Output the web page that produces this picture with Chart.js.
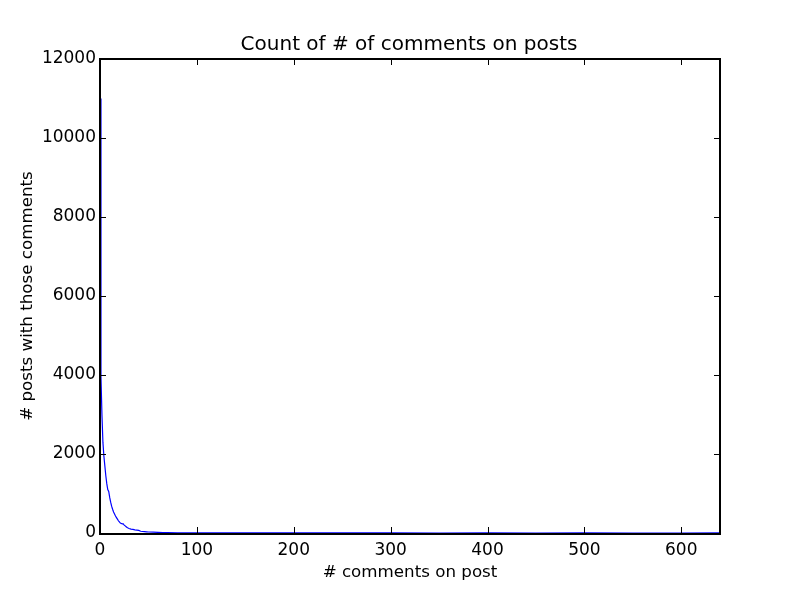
<!DOCTYPE html>
<html>
<head>
<meta charset="utf-8">
<script src="https://cdn.jsdelivr.net/npm/chart.js@4"></script>
<style>
  html, body { margin: 0; padding: 0; background: #fff; }
  #wrap { width: 800px; height: 593px; }
</style>
</head>
<body>
<div id="wrap"><canvas id="canvas" width="800" height="593"></canvas></div>
<script>
// # comments on a post (x) and how many posts had that many (y)
var commentCounts = [0, 1, 2, 3, 4, 5, 6, 7, 8, 9, 10, 11, 12, 13, 14, 15, 16, 17, 18, 19, 20,
    21, 22, 23, 24, 25, 26, 27, 28, 29, 30, 32, 34, 36, 38, 40, 42, 44, 46, 48, 50,
    55, 60, 65, 70, 80, 90, 100, 120, 140, 160, 200, 250, 300, 350, 400, 450, 500, 550, 600, 640];
var postCounts = [11000, 3950, 3000, 2300, 1950, 1700, 1450, 1250, 1100, 1050, 900,
    780, 680, 600, 530, 480, 430, 390, 350, 310, 280,
    250, 240, 230, 230, 200, 180, 160, 140, 125, 115, 100, 90, 80, 75, 65, 45, 38, 34, 30, 25,
    20, 15, 12, 10, 6, 4, 3, 2, 2, 1, 1, 1, 1, 0, 1, 0, 1, 0, 0, 1];

var xTicks = [0, 100, 200, 300, 400, 500, 600];
var yTicks = [0, 2000, 4000, 6000, 8000, 10000, 12000];

var chartTitle = 'Count of # of comments on posts';
var xTitle = '# comments on post';
var yTitle = '# posts with those comments';

var points = commentCounts.map(function (c, i) { return {x: c, y: postCounts[i]}; });

Chart.defaults.font.family = '"DejaVu Sans", sans-serif';
Chart.defaults.color = '#000';

// matplotlib style frame with inward tick marks, drawn over the line
var frameTicks = {
    id: 'frameTicks',
    afterDraw: function (chart) {
        var ctx = chart.ctx;
        var a = chart.chartArea;
        var xs = chart.scales.x, ys = chart.scales.y;
        var len = 6;
        var l = Math.round(a.left), r = Math.round(a.right);
        var t = Math.round(a.top), b = Math.round(a.bottom);
        ctx.save();
        ctx.strokeStyle = '#000';
        ctx.lineWidth = 1;
        ctx.beginPath();
        xTicks.forEach(function (v) {
            var px = Math.round(xs.getPixelForValue(v)) + 0.5;
            ctx.moveTo(px, b); ctx.lineTo(px, b - len);
            ctx.moveTo(px, t); ctx.lineTo(px, t + len);
        });
        yTicks.forEach(function (v) {
            var py = Math.round(ys.getPixelForValue(v)) + 0.5;
            ctx.moveTo(l, py); ctx.lineTo(l + len, py);
            ctx.moveTo(r, py); ctx.lineTo(r - len, py);
        });
        ctx.stroke();
        ctx.lineWidth = 2;
        ctx.beginPath();
        ctx.moveTo(l, t - 1); ctx.lineTo(l, b + 2);      // left spine
        ctx.moveTo(r, t - 1); ctx.lineTo(r, b + 2);      // right spine
        ctx.moveTo(l - 1, t); ctx.lineTo(r + 1, t);      // top spine
        ctx.moveTo(l - 1, b + 1); ctx.lineTo(r + 1, b + 1); // bottom spine, just under the line
        ctx.stroke();
        ctx.restore();
    }
};

function plainTick(value) { return String(value); }

var config = {
    type: 'line',
    data: {
        datasets: [{
            data: points,
            borderColor: '#0000ff',
            backgroundColor: '#0000ff',
            borderWidth: 1.2,
            pointRadius: 0,
            fill: false,
            tension: 0
        }]
    },
    plugins: [frameTicks],
    options: {
        responsive: false,
        animation: false,
        layout: {padding: {left: 18, right: 0, top: 0, bottom: 0}},
        plugins: {
            legend: {display: false},
            tooltip: {enabled: false},
            title: {
                display: true,
                text: chartTitle,
                color: '#000',
                font: {size: 20, weight: 'normal'},
                padding: {top: 33, bottom: 2}
            }
        },
        scales: {
            x: {
                type: 'linear',
                min: 0,
                max: 640,
                grid: {display: false, drawTicks: false},
                border: {display: false},
                ticks: {stepSize: 100, padding: 7, font: {size: 17}, maxRotation: 0, callback: plainTick},
                afterBuildTicks: function (scale) {
                    scale.ticks = xTicks.map(function (v) { return {value: v}; });
                },
                afterFit: function (scale) { scale.height = 60; },
                title: {display: true, text: xTitle, font: {size: 16.7}, padding: {top: 0, bottom: 10}}
            },
            y: {
                type: 'linear',
                min: 0,
                max: 12000,
                grid: {display: false, drawTicks: false},
                border: {display: false},
                ticks: {stepSize: 2000, padding: 4, font: {size: 17}, callback: plainTick},
                afterBuildTicks: function (scale) {
                    scale.ticks = yTicks.map(function (v) { return {value: v}; });
                },
                afterFit: function (scale) { scale.width = 82; },
                title: {display: true, text: yTitle, font: {size: 16.7}, padding: {top: 0, bottom: 0}}
            },
            // empty right margin so the title stays centred over the plot
            yRight: {
                type: 'linear',
                position: 'right',
                min: 0,
                max: 12000,
                grid: {display: false, drawTicks: false},
                border: {display: false},
                ticks: {display: false},
                afterFit: function (scale) { scale.width = 80; }
            }
        }
    }
};

window.onload = function () {
    var ctx = document.getElementById('canvas').getContext('2d');
    window.myLine = new Chart(ctx, config);
};
</script>
</body>
</html>
